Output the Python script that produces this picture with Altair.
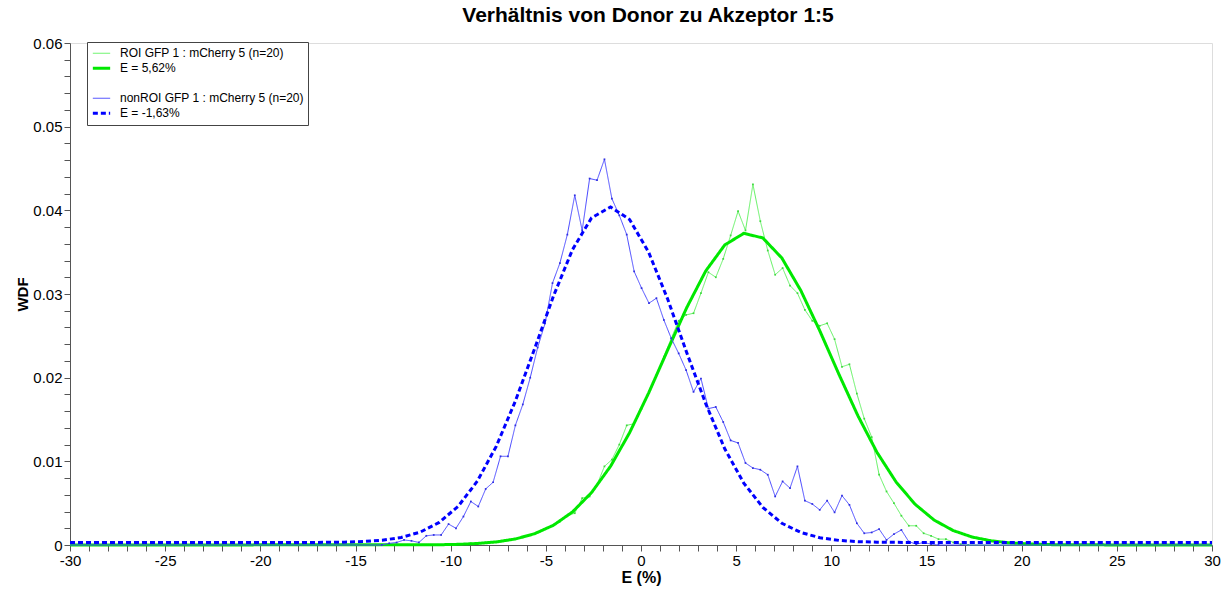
import altair as alt
import pandas as pd

TITLE = "Verhältnis von Donor zu Akzeptor 1:5"
SERIES = ["ROI GFP 1 : mCherry 5 (n=20)", "E = 5,62%", " ",
          "nonROI GFP 1 : mCherry 5 (n=20)", "E = -1,63%"]
COLORS = ["#62f262", "#00e800", "#ffffff", "#4848ff", "#0000ff"]
WIDTHS = [1, 3, 0, 1, 3]
DASHES = [[1, 0], [1, 0], [1, 0], [1, 0], [5, 3]]

# ROI (green) measured WDF
roi_x = [-30, -10.11, -9.72, -9.33, -8.94, -8.55, -8.16, -7.77, -7.38, -6.99, -6.60,
         -6.21, -5.82, -5.43, -5.04, -4.65, -4.26, -3.87, -3.48, -3.09, -2.70, -2.31,
         -1.92, -1.53, -1.14, -0.75, -0.36, 0.03, 0.42, 0.81, 1.20, 1.59, 1.98, 2.37,
         2.76, 3.15, 3.54, 3.93, 4.32, 4.71, 5.10, 5.49, 5.88, 6.27, 6.66, 7.05, 7.44,
         7.83, 8.22, 8.61, 9.00, 9.39, 9.78, 10.17, 10.56, 10.95, 11.34, 11.73, 12.12,
         12.51, 12.90, 13.29, 13.68, 14.07, 14.46, 14.85, 15.24, 15.63, 16.02, 16.41,
         16.80, 17.19, 30]
roi_y = [0, 0, 0.0001, 0.0001, 0.0002, 0.0002, 0.0003, 0.0003, 0.0004, 0.0006, 0.0007,
         0.0009, 0.0012, 0.0015, 0.0019, 0.0023, 0.0028, 0.0035, 0.0038, 0.0056, 0.0058,
         0.0072, 0.0094, 0.0102, 0.0120, 0.0143, 0.0145, 0.0163, 0.0183, 0.0203, 0.0225,
         0.0247, 0.0268, 0.0275, 0.0277, 0.0301, 0.0326, 0.0320, 0.0342, 0.0370, 0.0399,
         0.0376, 0.0431, 0.0387, 0.0352, 0.0323, 0.0331, 0.0310, 0.0301, 0.0281, 0.0268,
         0.0262, 0.0265, 0.0246, 0.0213, 0.0216, 0.0181, 0.0151, 0.0129, 0.0084, 0.0064,
         0.0050, 0.0035, 0.0023, 0.0023, 0.0014, 0.0011, 0.0007, 0.0007, 0.0003, 0.0001,
         0, 0]

# ROI fitted curve (E = 5,62%)
roi_fit_x = [-30, -10.6, -9.6, -8.6, -7.6, -6.6, -5.6, -4.6, -3.6, -2.6, -1.6, -0.6, 0.4,
             1.4, 2.4, 3.4, 4.4, 5.4, 6.4, 7.4, 8.4, 9.4, 10.4, 11.4, 12.4, 13.4, 14.4,
             15.4, 16.4, 17.4, 18.4, 19.4, 20.4, 21.4, 22.4, 30]
roi_fit_y = [0, 0.00003, 0.00008, 0.00018, 0.00037, 0.00072, 0.00134, 0.00236, 0.00395,
             0.00626, 0.00941, 0.01342, 0.01816, 0.0233, 0.02836, 0.03275, 0.03586,
             0.03725, 0.0367, 0.0343, 0.0304, 0.02557, 0.0204, 0.01543, 0.01107, 0.00754,
             0.00487, 0.00298, 0.00173, 0.00095, 0.0005, 0.00025, 0.00012, 0.00005,
             0.00002, 0]

# nonROI (blue) measured WDF
non_x = [-30, -13.62, -13.23, -12.84, -12.45, -12.06, -11.67, -11.28, -10.89, -10.50,
         -10.11, -9.72, -9.33, -8.94, -8.55, -8.16, -7.77, -7.38, -6.99, -6.60, -6.21,
         -5.82, -5.43, -5.04, -4.65, -4.26, -3.87, -3.48, -3.09, -2.70, -2.31, -1.92,
         -1.53, -1.14, -0.75, -0.36, 0.03, 0.42, 0.81, 1.20, 1.59, 1.98, 2.37, 2.76,
         3.15, 3.54, 3.93, 4.32, 4.71, 5.10, 5.49, 5.88, 6.27, 6.66, 7.05, 7.44, 7.83,
         8.22, 8.61, 9.00, 9.39, 9.78, 10.17, 10.56, 10.95, 11.34, 11.73, 12.12, 12.51,
         12.90, 13.29, 13.68, 14.07, 14.46, 14.85, 15.24, 15.63, 30]
non_y = [0, 0, 0.0002, 0.0003, 0.0006, 0.0005, 0.0003, 0.0011, 0.0012, 0.0012, 0.0025,
         0.0020, 0.0034, 0.0052, 0.0046, 0.0067, 0.0075, 0.0106, 0.0106, 0.0143, 0.0168,
         0.0200, 0.0236, 0.0265, 0.0313, 0.0337, 0.0371, 0.0418, 0.0376, 0.0438, 0.0436,
         0.0461, 0.0414, 0.0394, 0.0371, 0.0327, 0.0307, 0.0289, 0.0295, 0.0269, 0.0247,
         0.0229, 0.0209, 0.0183, 0.0199, 0.0163, 0.0165, 0.0147, 0.0125, 0.0122, 0.0098,
         0.0092, 0.0090, 0.0084, 0.0058, 0.0076, 0.0068, 0.0094, 0.0053, 0.0049, 0.0042,
         0.0053, 0.0039, 0.0059, 0.0048, 0.0026, 0.0014, 0.0015, 0.0019, 0.0006, 0.0013,
         0.0018, 0.0004, 0.0001, 0.0003, 0.0001, 0, 0]

# nonROI fitted curve (E = -1,63%)
non_fit_x = [-30, -17.6, -16.6, -15.6, -14.6, -13.6, -12.6, -11.6, -10.6, -9.6, -8.6,
             -7.6, -6.6, -5.6, -4.6, -3.6, -2.6, -1.6, -0.6, 0.4, 1.4, 2.4, 3.4, 4.4,
             5.4, 6.4, 7.4, 8.4, 9.4, 10.4, 11.4, 12.4, 13.4, 14.4, 30]
non_fit_y = [0.0003, 0.0003, 0.00032, 0.00034, 0.00041, 0.00057, 0.0009, 0.00154, 0.0027,
             0.00464, 0.00763, 0.01182, 0.0172, 0.0234, 0.02975, 0.0353, 0.0391, 0.0404,
             0.0389, 0.0350, 0.0294, 0.0230, 0.0169, 0.0115, 0.0074, 0.0045, 0.0026,
             0.0015, 0.00087, 0.00055, 0.0004, 0.00034, 0.00032, 0.0003, 0.0003]

XTICKS = list(range(-30, 31))
YTICKS = [round(i * 0.002, 3) for i in range(31)]

FONT = "Liberation Sans"

legend = alt.Legend(
    title=None, orient="none", legendX=17, legendY=-1,
    fillColor="white", strokeColor="#444444", padding=4,
    labelFont=FONT, labelFontSize=12, labelColor="#000000",
    symbolType="stroke", symbolSize=300, clipHeight=14.5, rowPadding=0,
    labelOffset=8, labelLimit=400,
)

x_enc = alt.X("x:Q", scale=alt.Scale(domain=[-30, 30], nice=False, zero=False),
              axis=alt.Axis(values=XTICKS,
                            labelExpr="datum.value % 5 == 0 ? '' + datum.value : ''",
                            title="E (%)", grid=False, tickSize=6, labelFontSize=15,
                            titleFontSize=16, titleFontWeight="bold", labelFont=FONT,
                            titleFont=FONT, labelOverlap=False, labelFlush=False,
                            domainColor="#555555", tickColor="#555555",
                            labelColor="#000000", titleColor="#000000",
                            labelPadding=2, titlePadding=1))
y_enc = alt.Y("y:Q", scale=alt.Scale(domain=[0, 0.06], nice=False, zero=True),
              axis=alt.Axis(values=YTICKS,
                            labelExpr="datum.value == 0 ? '0' : (round(datum.value * 1000) % 10 == 0 ? format(datum.value, '.2f') : '')",
                            title="WDF", grid=False, tickSize=6, labelFontSize=15,
                            titleFontSize=15, titleFontWeight="bold", labelFont=FONT,
                            titleFont=FONT, labelOverlap=False, labelFlush=False,
                            domainColor="#555555", tickColor="#555555",
                            labelColor="#000000", titleColor="#000000",
                            labelPadding=2, titlePadding=2))
color_enc = alt.Color("series:N", scale=alt.Scale(domain=SERIES, range=COLORS), legend=legend)
width_enc = alt.StrokeWidth("series:N", scale=alt.Scale(type="ordinal", domain=SERIES, range=WIDTHS),
                            legend=legend)
dash_enc = alt.StrokeDash("series:N", scale=alt.Scale(type="ordinal", domain=SERIES, range=DASHES),
                          legend=legend)


def layer(xs, ys, name):
    df = pd.DataFrame({"x": xs, "y": ys, "series": name})
    return alt.Chart(df).mark_line(strokeCap="butt").encode(
        x=x_enc, y=y_enc, color=color_enc, strokeWidth=width_enc, strokeDash=dash_enc)


def dots(xs, ys, col):
    df = pd.DataFrame({"x": xs[1:-1], "y": ys[1:-1]})
    return alt.Chart(df).mark_square(size=3, opacity=1).encode(
        x=x_enc, y=y_enc, color=alt.value(col))


chart = alt.layer(
    layer(roi_x, roi_y, SERIES[0]),
    dots(roi_x, roi_y, "#3fd83f"),
    layer(roi_fit_x, roi_fit_y, SERIES[1]),
    layer(non_x, non_y, SERIES[3]),
    dots(non_x, non_y, "#3030e0"),
    layer(non_fit_x, non_fit_y, SERIES[4]),
).properties(
    width=1142, height=502,
    title=alt.TitleParams(TITLE, font=FONT, fontSize=21, fontWeight="bold",
                          anchor="middle", baseline="bottom", offset=6, dx=7, dy=17,
                          color="#000000"),
    autosize=alt.AutoSizeParams(type="none"),
    padding={"left": 70, "top": 43, "right": 16, "bottom": 47},
).configure_view(stroke=None).configure(background="white")

chart.save("out.html", embed_options={"renderer": "svg", "actions": False})
